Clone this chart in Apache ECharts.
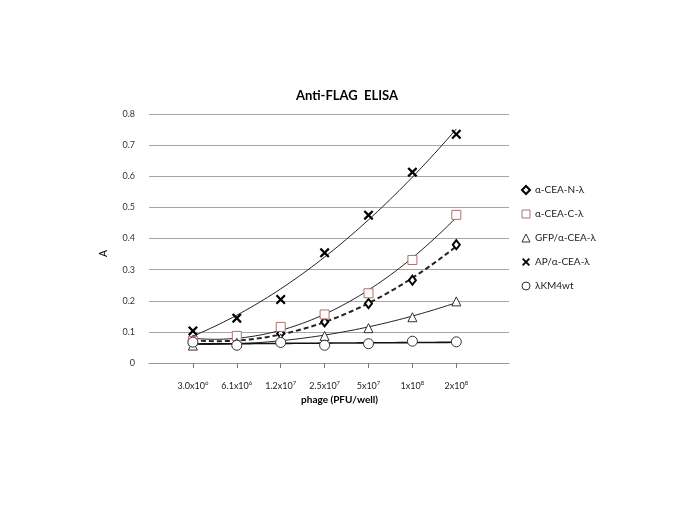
<!DOCTYPE html>
<html><head><meta charset="utf-8">
<script src="https://cdn.jsdelivr.net/npm/echarts@6/dist/echarts.min.js"></script>
<style>html,body{margin:0;padding:0;background:#fff}#c{width:685px;height:513px}</style>
</head><body><div id="c"></div>
<script>
// categories (x positions 1..7)
const categories = [
  ['3.0x10', '6'], ['6.1x10', '6'], ['1.2x10', '7'], ['2.5x10', '7'],
  ['5x10', '7'], ['1x10', '8'], ['2x10', '8']
];
const seriesNames = ['α-CEA-N-λ', 'α-CEA-C-λ', 'GFP/α-CEA-λ', 'AP/α-CEA-λ', 'λKM4wt'];
const valsN   = [0.070, 0.075, 0.095, 0.132, 0.191, 0.266, 0.380];
const valsC   = [0.071, 0.087, 0.116, 0.156, 0.224, 0.331, 0.476];
const valsGFP = [0.056, 0.065, 0.079, 0.087, 0.112, 0.147, 0.198];
const valsAP  = [0.103, 0.144, 0.204, 0.354, 0.475, 0.613, 0.735];
const valsWT  = [0.067, 0.057, 0.066, 0.057, 0.062, 0.070, 0.068];
const yTicks = [0, 0.1, 0.2, 0.3, 0.4, 0.5, 0.6, 0.7, 0.8];

const allVals = [valsN, valsC, valsGFP, valsAP, valsWT];
const trendDegree = [2, 2, 2, 2, 1];

// least-squares polynomial trendline (like spreadsheet trendline) from the data
function polyFit(ys, deg) {
  const n = deg + 1;
  const A = [], b = [];
  for (let i = 0; i < n; i++) { A.push(new Array(n).fill(0)); b.push(0); }
  ys.forEach((y, k) => {
    const x = k + 1;
    for (let i = 0; i < n; i++) {
      for (let j = 0; j < n; j++) A[i][j] += Math.pow(x, i + j);
      b[i] += y * Math.pow(x, i);
    }
  });
  for (let i = 0; i < n; i++) {
    let p = i;
    for (let r = i + 1; r < n; r++) if (Math.abs(A[r][i]) > Math.abs(A[p][i])) p = r;
    [A[i], A[p]] = [A[p], A[i]]; [b[i], b[p]] = [b[p], b[i]];
    for (let r = i + 1; r < n; r++) {
      const f = A[r][i] / A[i][i];
      for (let c = i; c < n; c++) A[r][c] -= f * A[i][c];
      b[r] -= f * b[i];
    }
  }
  const co = new Array(n).fill(0);
  for (let i = n - 1; i >= 0; i--) {
    let s = b[i];
    for (let c = i + 1; c < n; c++) s -= A[i][c] * co[c];
    co[i] = s / A[i][i];
  }
  return co;
}
function trendPoints(ys, deg) {
  const co = polyFit(ys, deg);
  const pts = [];
  for (let s = 0; s <= 60; s++) {
    const x = 1 + s * 0.1;
    let y = 0;
    co.forEach((c, i) => { y += c * Math.pow(x, i); });
    pts.push([x, y]);
  }
  return pts;
}

const xPath = 'path://M0,1.6L1.6,0L5,3.4L8.4,0L10,1.6L6.6,5L10,8.4L8.4,10L5,6.6L1.6,10L0,8.4L3.4,5Z';
// fill, border, borderWidth
const markers = [
  { symbol: 'emptyDiamond', size: [7, 9], style: { color: '#000' } },
  { symbol: 'rect', size: 9, style: { color: '#fff', borderColor: '#b07070', borderWidth: 1 } },
  { symbol: 'triangle', size: 9, style: { color: '#fff', borderColor: '#333', borderWidth: 1 } },
  { symbol: xPath, size: 10, style: { color: '#000' } },
  { symbol: 'circle', size: 10, style: { color: '#fff', borderColor: '#333', borderWidth: 1 } }
];
const trendStyles = [
  { width: 2, type: [5, 3], color: '#222' },
  { width: 1, type: 'solid', color: '#222' },
  { width: 1, type: 'solid', color: '#222' },
  { width: 1, type: 'solid', color: '#222' },
  { width: 1.6, type: 'solid', color: '#111' }
];

const series = [];
allVals.forEach((vals, i) => {
  series.push({
    name: seriesNames[i] + ' trend', type: 'line', silent: true,
    data: trendPoints(vals, trendDegree[i]), showSymbol: false, symbol: 'none',
    lineStyle: trendStyles[i], z: 2
  });
});
allVals.forEach((vals, i) => {
  const m = markers[i];
  series.push({
    name: seriesNames[i], type: 'scatter',
    data: vals.map((v, k) => [k + 1, v]),
    symbol: m.symbol, symbolSize: m.size,
    itemStyle: Object.assign({ opacity: 1 }, m.style),
    z: 3
  });
});

const legendIcons = ['emptyDiamond', 'rect', 'triangle', xPath, 'circle'];

const chart = echarts.init(document.getElementById('c'), null, { renderer: 'canvas' });
chart.setOption({
  backgroundColor: '#fff',
  animation: false,
  textStyle: { fontFamily: '"Open Sans", Lato, sans-serif' },
  title: {
    text: 'Anti-FLAG  ELISA', left: 342, top: 84, textAlign: 'center',
    textStyle: { fontSize: 13, fontWeight: 'bold', color: '#000', fontFamily: 'Lato, "Open Sans", sans-serif' }
  },
  legend: {
    orient: 'vertical', left: 516, top: 180, itemGap: 14, itemWidth: 8, itemHeight: 8,
    textStyle: { fontSize: 10, color: '#222', fontFamily: 'Lato, sans-serif' },
    itemStyle: { borderWidth: 1 },
    data: seriesNames.map((n, i) => ({ name: n, icon: legendIcons[i] }))
  },
  grid: { left: 149, right: 176, top: 114, bottom: 150 },
  xAxis: {
    type: 'value', min: 0, max: 8.2,
    axisLine: { show: true, lineStyle: { color: '#999' } },
    axisTick: { show: true, customValues: [1, 2, 3, 4, 5, 6, 7], length: 5, inside: false, lineStyle: { color: '#777' } },
    splitLine: { show: false },
    axisLabel: {
      customValues: [1, 2, 3, 4, 5, 6, 7], margin: 17, fontSize: 9, color: '#222', fontFamily: 'Lato, sans-serif',
      formatter: v => { const c = categories[Math.round(v) - 1]; return c ? c[0] + '{s|' + c[1] + '}' : ''; },
      rich: { s: { fontSize: 6, verticalAlign: 'top', padding: [0, 0, 6, 0], color: '#222', fontFamily: 'Lato, sans-serif' } }
    },
    name: 'phage (PFU/well)', nameLocation: 'middle', nameGap: 32,
    nameTextStyle: { fontSize: 10, fontWeight: 'bold', color: '#000', padding: [0, 0, 0, 21], fontFamily: 'Lato, sans-serif' }
  },
  yAxis: {
    type: 'value', min: 0, max: 0.8, interval: 0.1,
    axisLine: { show: false }, axisTick: { show: false },
    splitLine: { lineStyle: { color: '#a6a6a6', width: 1 } },
    axisLabel: { fontSize: 9, color: '#333', margin: 14, fontFamily: 'Lato, sans-serif', formatter: v => String(Math.round(v * 10) / 10) },
    name: 'A', nameLocation: 'middle', nameGap: 40, nameRotate: 90,
    nameTextStyle: { fontSize: 11, color: '#000', padding: [0, 30, 0, 0] }
  },
  series: series
});
</script>
</body></html>
